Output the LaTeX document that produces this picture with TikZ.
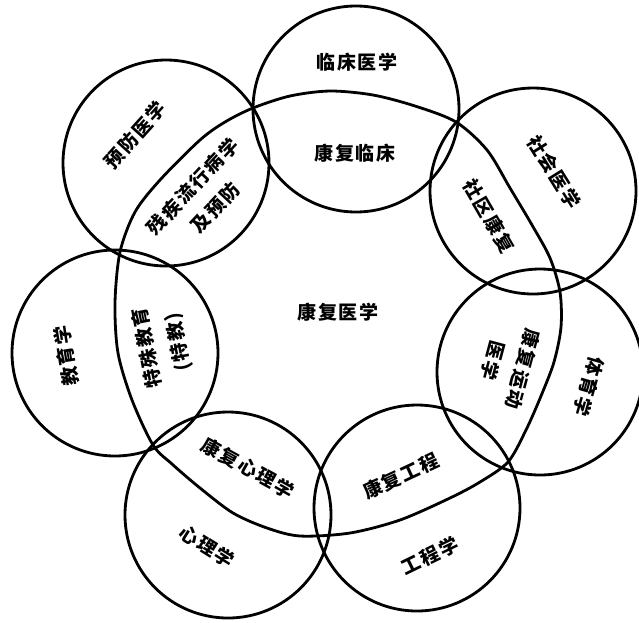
\documentclass[tikz,border=0pt]{standalone}
\usepackage{fontspec}
\newfontfamily\cjk[LetterSpace=10]{Noto Sans CJK SC}
\usepackage{tikz}

\begin{document}
\begin{tikzpicture}[
  x=1pt, y=-1pt,
  field/.style = {circle, draw, line width=2.8pt, minimum size=206pt, inner sep=0pt},
  lbl/.style = {font=\cjk\bfseries\fontsize{19}{31}\selectfont, align=center, inner sep=0pt},
  rim/.style = {line width=2.8pt}
]
\useasboundingbox (0,0) rectangle (639,622);

% surrounding disciplines
\node[field] (linchuang) at (356,109) {};
\node[field] (shehui)    at (533,191) {};
\node[field] (tiyu)      at (540,372) {};
\node[field] (gongcheng) at (417,508) {};
\node[field] (xinli)     at (228,515) {};
\node[field] (jiaoyu)    at (115,353) {};
\node[field] (yufang)    at (166,163) {};

% rehabilitation medicine
\draw[rim] plot[smooth cycle, tension=0.5] coordinates {
  (253,108) (290,96) (330,91) (373,95) (415,106) (456,122)
  (487,150) (510,188) (532,225) (550,258) (560,292) (561,327)
  (554,362) (541,396) (526,430) (508,462) (480,482) (450,498)
  (400,520) (350,533) (300,536) (267,528) (233,513) (200,488)
  (172,464) (153,445) (132,400) (118,353) (115,303) (120,252)
  (135,212) (160,180) (200,140) (225,122)};

\node[lbl] (t-linchuang) at (357,62) {临床医学};
\node[lbl] (t-kflc) at (355,153) {康复临床};
\node[lbl, rotate=48] (t-yufang) at (135,135) {预防医学};
\node[lbl, rotate=47] (t-canji) at (204,197) {残疾流行病学\\及预防};
\node[lbl, rotate=-58] (t-shehui) at (554,172) {社会医学};
\node[lbl, rotate=-60] (t-sqkf) at (489,216) {社区康复};
\node[lbl] (t-kfyx) at (338,312) {康复医学};
\node[lbl, rotate=-105] (t-kfyd) at (508,365) {康复运动\\医学};
\node[lbl, rotate=-106] (t-tiyu) at (589,387) {体育学};
\node[lbl, rotate=25] (t-kfgc) at (401,476) {康复工程};
\node[lbl, rotate=26] (t-gcx) at (430,556) {工程学};
\node[lbl, rotate=-32] (t-xinli) at (207,546) {心理学};
\node[lbl, rotate=-29] (t-kfxl) at (248,468) {康复心理学};
\node[lbl, rotate=99] (t-jiaoyu) at (66,356) {教育学};
\node[lbl, rotate=101] (t-tsjy) at (163,345) {特殊教育\\(特教)};
\end{tikzpicture}
\end{document}
